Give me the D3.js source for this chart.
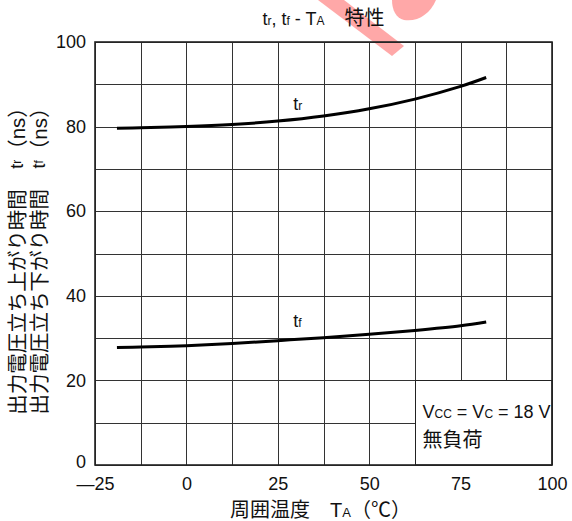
<!DOCTYPE html>
<html>
<head>
<meta charset="utf-8">
<script src="https://cdn.jsdelivr.net/npm/d3@7"></script>
<style>
html,body{margin:0;padding:0;background:#fff;}
svg{display:block;font-family:"Liberation Sans","Noto Sans CJK JP",sans-serif;}
</style>
</head>
<body>
<svg id="chart" width="572" height="521"></svg>
<script>
// ---- data ----
const temps   = [-19, -12.5, 0, 12.5, 25, 37.5, 50, 62.5, 75, 82];
const trValues = [79.6, 79.7, 80.0, 80.5, 81.3, 82.5, 84.2, 86.5, 89.5, 91.6];
const tfValues = [27.8, 27.9, 28.2, 28.7, 29.4, 30.1, 30.9, 31.8, 32.9, 33.8];
const xTicks = [-25, 0, 25, 50, 75, 100];
const yTicks = [0, 20, 40, 60, 80, 100];
const xGrid = d3.range(-25, 100.01, 12.5);
const yGrid = d3.range(0, 100.01, 10);

const svg = d3.select("#chart");
const M = {left:95, right:552, top:42, bottom:465};
const x = d3.scaleLinear().domain([-25, 100]).range([M.left, M.right]);
const y = d3.scaleLinear().domain([0, 100]).range([M.bottom, M.top]);

// watermark (decorative)
const wm = svg.append("g").attr("opacity", 0.45);
wm.append("path").attr("d","M318,0 L344,0 L404,46 L392,56 Z").attr("fill","#ff4040");
wm.append("path").attr("d","M392,0 L436,0 C430,14 418,22 404,20 C396,18 392,10 392,0 Z").attr("fill","#ff4040");

// grid
const grid = svg.append("g").attr("stroke", "#333").attr("stroke-width", 1);
grid.selectAll("line.v").data(xGrid).join("line")
  .attr("x1", d => Math.round(x(d)) + 0.5).attr("x2", d => Math.round(x(d)) + 0.5)
  .attr("y1", M.top).attr("y2", M.bottom);
grid.selectAll("line.h").data(yGrid).join("line")
  .attr("y1", d => Math.round(y(d)) + 0.5).attr("y2", d => Math.round(y(d)) + 0.5)
  .attr("x1", M.left).attr("x2", M.right);

// legend box (covers grid in lower-right cell block)
const bx0 = Math.round(x(62.5)) + 0.5, by0 = Math.round(y(20)) + 0.5;
svg.append("rect").attr("x", bx0).attr("y", by0)
  .attr("width", M.right - bx0).attr("height", M.bottom - by0)
  .attr("fill", "#fff").attr("stroke", "#222").attr("stroke-width", 1);

// border
svg.append("rect").attr("x", M.left).attr("y", M.top)
  .attr("width", M.right - M.left).attr("height", M.bottom - M.top)
  .attr("fill", "none").attr("stroke", "#222").attr("stroke-width", 1.6);

// axes
const yAxis = svg.append("g").attr("transform", `translate(${M.left},0)`)
  .call(d3.axisLeft(y).tickValues(yTicks).tickSize(0).tickPadding(9));
const xAxis = svg.append("g").attr("transform", `translate(0,${M.bottom})`)
  .call(d3.axisBottom(x).tickValues(xTicks).tickSize(0).tickPadding(12)
    .tickFormat(d => d < 0 ? "\u2014" + Math.abs(d) : String(d)));
[yAxis, xAxis].forEach(a => {
  a.select(".domain").remove();
  a.selectAll("text").attr("font-size", 18).attr("fill", "#111")
    .attr("font-family", "'Liberation Sans',sans-serif");
});
yAxis.selectAll("text").filter(d => d === 0).attr("dy", "0.15em");

// curves
const line = d3.line().x(d => x(d[0])).y(d => y(d[1])).curve(d3.curveCatmullRom.alpha(0.5));
svg.append("path").datum(temps.map((t, i) => [t, trValues[i]]))
  .attr("d", line).attr("fill", "none").attr("stroke", "#000").attr("stroke-width", 3);
svg.append("path").datum(temps.map((t, i) => [t, tfValues[i]]))
  .attr("d", line).attr("fill", "none").attr("stroke", "#000").attr("stroke-width", 3);

// curve labels
function sub(sel, main, s, size, subSize) {
  sel.append("tspan").text(main).attr("font-size", size);
  sel.append("tspan").text(s).attr("font-size", subSize);
}
const trL = svg.append("text").attr("x", x(29.2)).attr("y", y(83.9)).attr("fill", "#111");
sub(trL, "t", "r", 18, 12);
const tfL = svg.append("text").attr("x", x(29.2)).attr("y", y(32.6)).attr("fill", "#111");
sub(tfL, "t", "f", 18, 12);

// title
const title = svg.append("text").attr("x", (M.left + M.right) / 2).attr("y", 25)
  .attr("text-anchor", "middle").attr("fill", "#111").attr("font-size", 18);
title.append("tspan").text("t");
title.append("tspan").text("r").attr("font-size", 12);
title.append("tspan").text(", t");
title.append("tspan").text("f").attr("font-size", 12);
title.append("tspan").text(" - T");
title.append("tspan").text("A").attr("font-size", 12);
title.append("tspan").text("\u3000特性").attr("font-size", 20);

// x axis title
const xt = svg.append("text").attr("x", (M.left + M.right) / 2 - 3).attr("y", 517)
  .attr("text-anchor", "middle").attr("fill", "#111").attr("font-size", 20);
xt.append("tspan").text("周囲温度\u3000T");
xt.append("tspan").text("A").attr("font-size", 13);
xt.append("tspan").text("（℃）");

// y axis title (two rotated lines)
function yTitle(cx, word, s) {
  const t = svg.append("text")
    .attr("transform", `translate(${cx},256) rotate(-90)`)
    .attr("text-anchor", "middle").attr("dominant-baseline", "central")
    .attr("fill", "#111").attr("font-size", 20.5);
  t.append("tspan").text(word + "\u3000");
  t.append("tspan").text("t").attr("font-size", 18).attr("font-family", "'Liberation Sans',sans-serif");
  t.append("tspan").text(s).attr("font-size", 12).attr("font-family", "'Liberation Sans',sans-serif");
  t.append("tspan").text("（ns）");
}
yTitle(17, "出力電圧立ち上がり時間", "r");
yTitle(38.5, "出力電圧立ち下がり時間", "f");

// legend text
const l1 = svg.append("text").attr("x", bx0 + 7).attr("y", 418).attr("fill", "#111").attr("font-size", 18);
l1.append("tspan").text("V");
l1.append("tspan").text("CC").attr("font-size", 12);
l1.append("tspan").text(" = V");
l1.append("tspan").text("C").attr("font-size", 12);
l1.append("tspan").text(" = 18 V");
svg.append("text").attr("x", bx0 + 7).attr("y", 447).attr("fill", "#111")
  .attr("font-size", 20).text("無負荷");
</script>
</body>
</html>
